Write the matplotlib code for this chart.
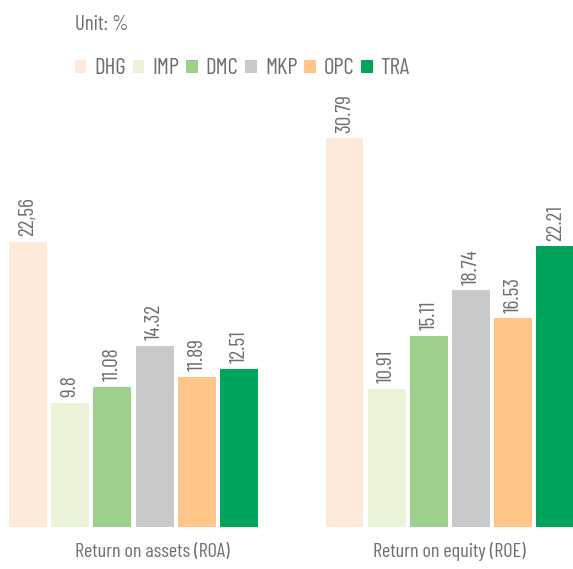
import matplotlib
matplotlib.use("Agg")
import matplotlib.pyplot as plt
from matplotlib.patches import Patch

plt.rcParams['font.family'] = ['Barlow Condensed', 'DejaVu Sans']
plt.rcParams['font.weight'] = 400

companies = ["DHG", "IMP", "DMC", "MKP", "OPC", "TRA"]
colors = ["#FDE9DA", "#EAF3D8", "#9DD08A", "#C8C9CB", "#FDC688", "#00A55B"]
groups = ["Return on assets (ROA)", "Return on equity (ROE)"]
roa = [22.56, 9.8, 11.08, 14.32, 11.89, 12.51]
roe = [30.79, 10.91, 15.11, 18.74, 16.53, 22.21]
roa_labels = ["22,56", "9.8", "11.08", "14.32", "11.89", "12.51"]
roe_labels = ["30.79", "10.91", "15.11", "18.74", "16.53", "22.21"]

text_color = "#6E6E70"

fig = plt.figure(figsize=(5.73, 5.69), dpi=100)
ax = fig.add_axes([0, 0.0743, 1, 0.75])

group_offset = 7.5
bar_w = 0.9
for g, (vals, labs) in enumerate([(roa, roa_labels), (roe, roe_labels)]):
    xs = [g * group_offset + i for i in range(len(companies))]
    bars = ax.bar(xs, vals, width=bar_w, color=colors)
    for b, lab in zip(bars, labs):
        ax.annotate(lab, (b.get_x() + b.get_width() / 2, b.get_height()),
                    xytext=(0, 4), textcoords="offset points",
                    rotation=90, ha="center", va="bottom",
                    fontsize=15.5, color=text_color)

ax.set_xlim(-0.664, 12.915)
ax.set_ylim(0, 33.81)
ax.axis("off")

ax.text(2.95, -2.0, groups[0], ha="center", va="center", fontsize=14.5,
        color=text_color)
ax.text(9.98, -2.0, groups[1], ha="center", va="center", fontsize=14.5,
        color=text_color)

fig.text(75 / 573, 1 - 24 / 569, "Unit: %", ha="left", va="center",
         fontsize=15, color=text_color)

handles = [Patch(facecolor=c, edgecolor="none", label=n)
           for c, n in zip(colors, companies)]
leg = fig.legend(handles=handles, ncol=6, frameon=False,
                 loc="center left", bbox_to_anchor=(75 / 573, 1 - 69 / 569),
                 handlelength=0.5, handleheight=0.5, handletextpad=0.35,
                 columnspacing=0.3, fontsize=16.5, borderaxespad=0,
                 borderpad=0)
for t in leg.get_texts():
    t.set_color(text_color)

fig.savefig("out.png", dpi=100)
